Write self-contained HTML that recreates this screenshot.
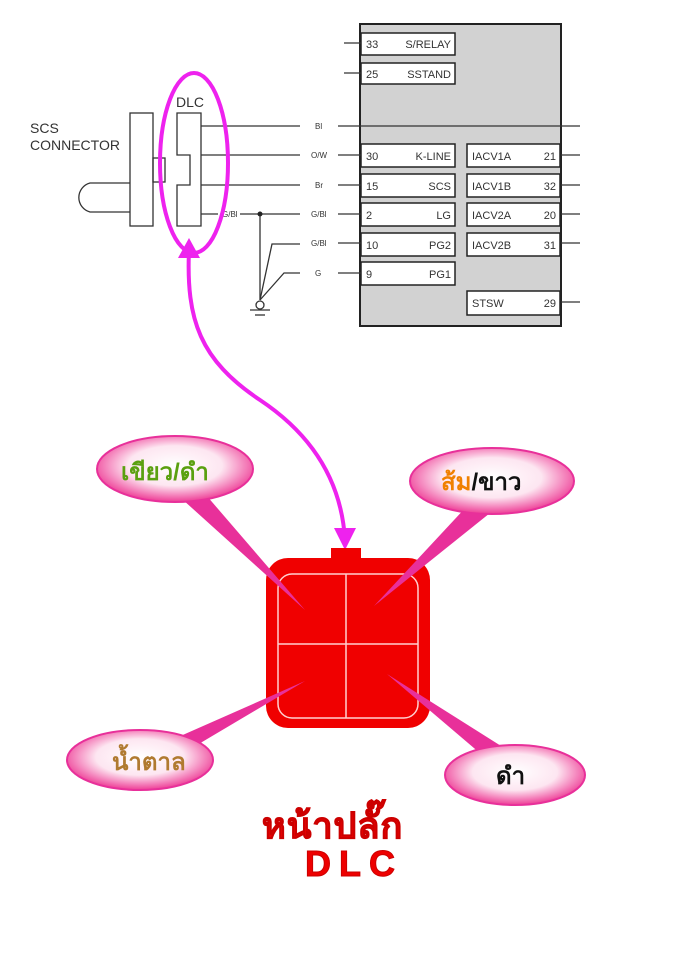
<!DOCTYPE html>
<html><head><meta charset="utf-8"><style>
body{margin:0;width:694px;height:976px;background:#fff;overflow:hidden}
svg{display:block}
.s{font-family:"Liberation Sans",sans-serif;fill:#333}
.t{font-family:"Liberation Sans","Noto Sans CJK SC",sans-serif;font-weight:bold;font-size:24px}
</style></head><body>
<svg width="694" height="976" viewBox="0 0 694 976" xmlns="http://www.w3.org/2000/svg">
<defs>
<radialGradient id="pg" cx="50%" cy="45%" r="55%">
<stop offset="0" stop-color="#fff"/><stop offset="0.55" stop-color="#fde6f1"/><stop offset="1" stop-color="#ee3d96"/>
</radialGradient>
</defs>
<rect x="360" y="24" width="201" height="302" fill="#d2d2d2" stroke="#222" stroke-width="2"/>
<g stroke="#222" stroke-width="1.5" fill="#fff">
<rect x="361" y="33" width="94" height="22"/><rect x="361" y="63" width="94" height="21"/>
<rect x="361" y="144" width="94" height="23"/><rect x="361" y="174" width="94" height="23"/>
<rect x="361" y="203" width="94" height="23"/><rect x="361" y="233" width="94" height="23"/>
<rect x="361" y="262" width="94" height="23"/>
<rect x="467" y="144" width="93" height="23"/><rect x="467" y="174" width="93" height="23"/>
<rect x="467" y="203" width="93" height="23"/><rect x="467" y="233" width="93" height="23"/>
<rect x="467" y="291" width="93" height="24"/>
</g>
<g class="s" font-size="11">
<text x="366" y="48">33</text><text x="451" y="48" text-anchor="end">S/RELAY</text>
<text x="366" y="78">25</text><text x="451" y="78" text-anchor="end">SSTAND</text>
<text x="366" y="160">30</text><text x="451" y="160" text-anchor="end">K-LINE</text>
<text x="366" y="190">15</text><text x="451" y="190" text-anchor="end">SCS</text>
<text x="366" y="219">2</text><text x="451" y="219" text-anchor="end">LG</text>
<text x="366" y="249">10</text><text x="451" y="249" text-anchor="end">PG2</text>
<text x="366" y="278">9</text><text x="451" y="278" text-anchor="end">PG1</text>
<text x="472" y="160">IACV1A</text><text x="556" y="160" text-anchor="end">21</text>
<text x="472" y="190">IACV1B</text><text x="556" y="190" text-anchor="end">32</text>
<text x="472" y="219">IACV2A</text><text x="556" y="219" text-anchor="end">20</text>
<text x="472" y="249">IACV2B</text><text x="556" y="249" text-anchor="end">31</text>
<text x="472" y="307">STSW</text><text x="556" y="307" text-anchor="end">29</text>
</g>
<g stroke="#333" stroke-width="1.3" fill="none">
<line x1="344" y1="43" x2="361" y2="43"/><line x1="344" y1="73" x2="361" y2="73"/>
<line x1="201" y1="126" x2="300" y2="126"/><line x1="338" y1="126" x2="580" y2="126"/>
<line x1="201" y1="155" x2="300" y2="155"/><line x1="338" y1="155" x2="361" y2="155"/>
<line x1="201" y1="185" x2="300" y2="185"/><line x1="338" y1="185" x2="361" y2="185"/>
<line x1="201" y1="214" x2="218" y2="214"/><line x1="240" y1="214" x2="300" y2="214"/><line x1="338" y1="214" x2="361" y2="214"/>
<line x1="338" y1="243" x2="361" y2="243"/><line x1="338" y1="273" x2="361" y2="273"/>
<line x1="561" y1="155" x2="580" y2="155"/><line x1="561" y1="185" x2="580" y2="185"/>
<line x1="561" y1="214" x2="580" y2="214"/><line x1="561" y1="243" x2="580" y2="243"/>
<line x1="561" y1="302" x2="580" y2="302"/>
<line x1="260" y1="214" x2="260" y2="300"/>
<polyline points="260,300 272,244 300,244"/><polyline points="260,300 284,273 300,273"/>
<line x1="250" y1="310" x2="270" y2="310"/><line x1="255" y1="315" x2="265" y2="315"/>
<rect x="130" y="113" width="23" height="113"/>
<rect x="153" y="158" width="12" height="24"/>
<path d="M177,113 H201 V226 H177 V185 H190 V155 H177 Z"/>
<path d="M130,183 H90 A15,15 0 0 0 90,212 H130"/>
</g>
<circle cx="260" cy="214" r="2.5" fill="#222"/>
<circle cx="260" cy="305" r="4" fill="#fff" stroke="#333" stroke-width="1.3"/>
<g class="s" font-size="8" fill="#555">
<text x="315" y="129">Bl</text><text x="311" y="158">O/W</text><text x="315" y="188">Br</text>
<text x="311" y="217">G/Bl</text><text x="311" y="246">G/Bl</text><text x="315" y="276">G</text><text x="222" y="217">G/Bl</text>
</g>
<g class="s" font-size="14" fill="#444">
<text x="30" y="133">SCS</text><text x="30" y="150">CONNECTOR</text><text x="176" y="107">DLC</text>
</g>
<ellipse cx="194" cy="163" rx="34" ry="90" fill="none" stroke="#ee22ee" stroke-width="4"/>
<path d="M189,250 C186,320 200,360 260,400 C320,440 342,490 345,540" fill="none" stroke="#ee22ee" stroke-width="4"/>
<polygon points="189,238 178,258 200,258" fill="#ee22ee"/>
<polygon points="345,550 334,528 356,528" fill="#ee22ee"/>
<rect x="331" y="548" width="30" height="14" fill="#f00000"/>
<rect x="266" y="558" width="164" height="170" rx="22" fill="#f00000"/>
<rect x="278" y="574" width="140" height="144" rx="14" fill="none" stroke="#ffd0d0" stroke-width="1.5"/>
<line x1="346" y1="574" x2="346" y2="718" stroke="#ffd0d0" stroke-width="1.5"/>
<line x1="278" y1="644" x2="418" y2="644" stroke="#ffd0d0" stroke-width="1.5"/>
<g fill="#e8309a">
<polygon points="172,490 200,488 305,610"/>
<polygon points="468,505 500,505 374,606"/>
<polygon points="160,745 192,748 305,681"/>
<polygon points="488,760 520,758 387,674"/>
</g>
<g stroke="#e8309a" stroke-width="2" fill="url(#pg)">
<ellipse cx="175" cy="469" rx="78" ry="33"/>
<ellipse cx="492" cy="481" rx="82" ry="33"/>
<ellipse cx="140" cy="760" rx="73" ry="30"/>
<ellipse cx="515" cy="775" rx="70" ry="30"/>
</g>
<text class="t" x="121" y="480" fill="#5aa010">เขียว/ดำ</text>
<text class="t" x="441" y="490"><tspan fill="#f08000">ส้ม</tspan><tspan fill="#111">/ขาว</tspan></text>
<text class="t" x="112" y="770" fill="#b07a30">น้ำตาล</text>
<text class="t" x="496" y="784" fill="#111">ดำ</text>
<text x="262" y="838" font-family="Liberation Sans,'Noto Sans CJK SC',sans-serif" font-weight="bold" font-size="36" fill="#ee0000" stroke="#c00" stroke-width="1" letter-spacing="1">หน้าปลั๊ก</text>
<text x="305" y="876" font-family="Liberation Sans,sans-serif" font-weight="bold" font-size="36" fill="#ee0000" stroke="#c00" stroke-width="1" letter-spacing="8">DLC</text>
</svg>
</body></html>
